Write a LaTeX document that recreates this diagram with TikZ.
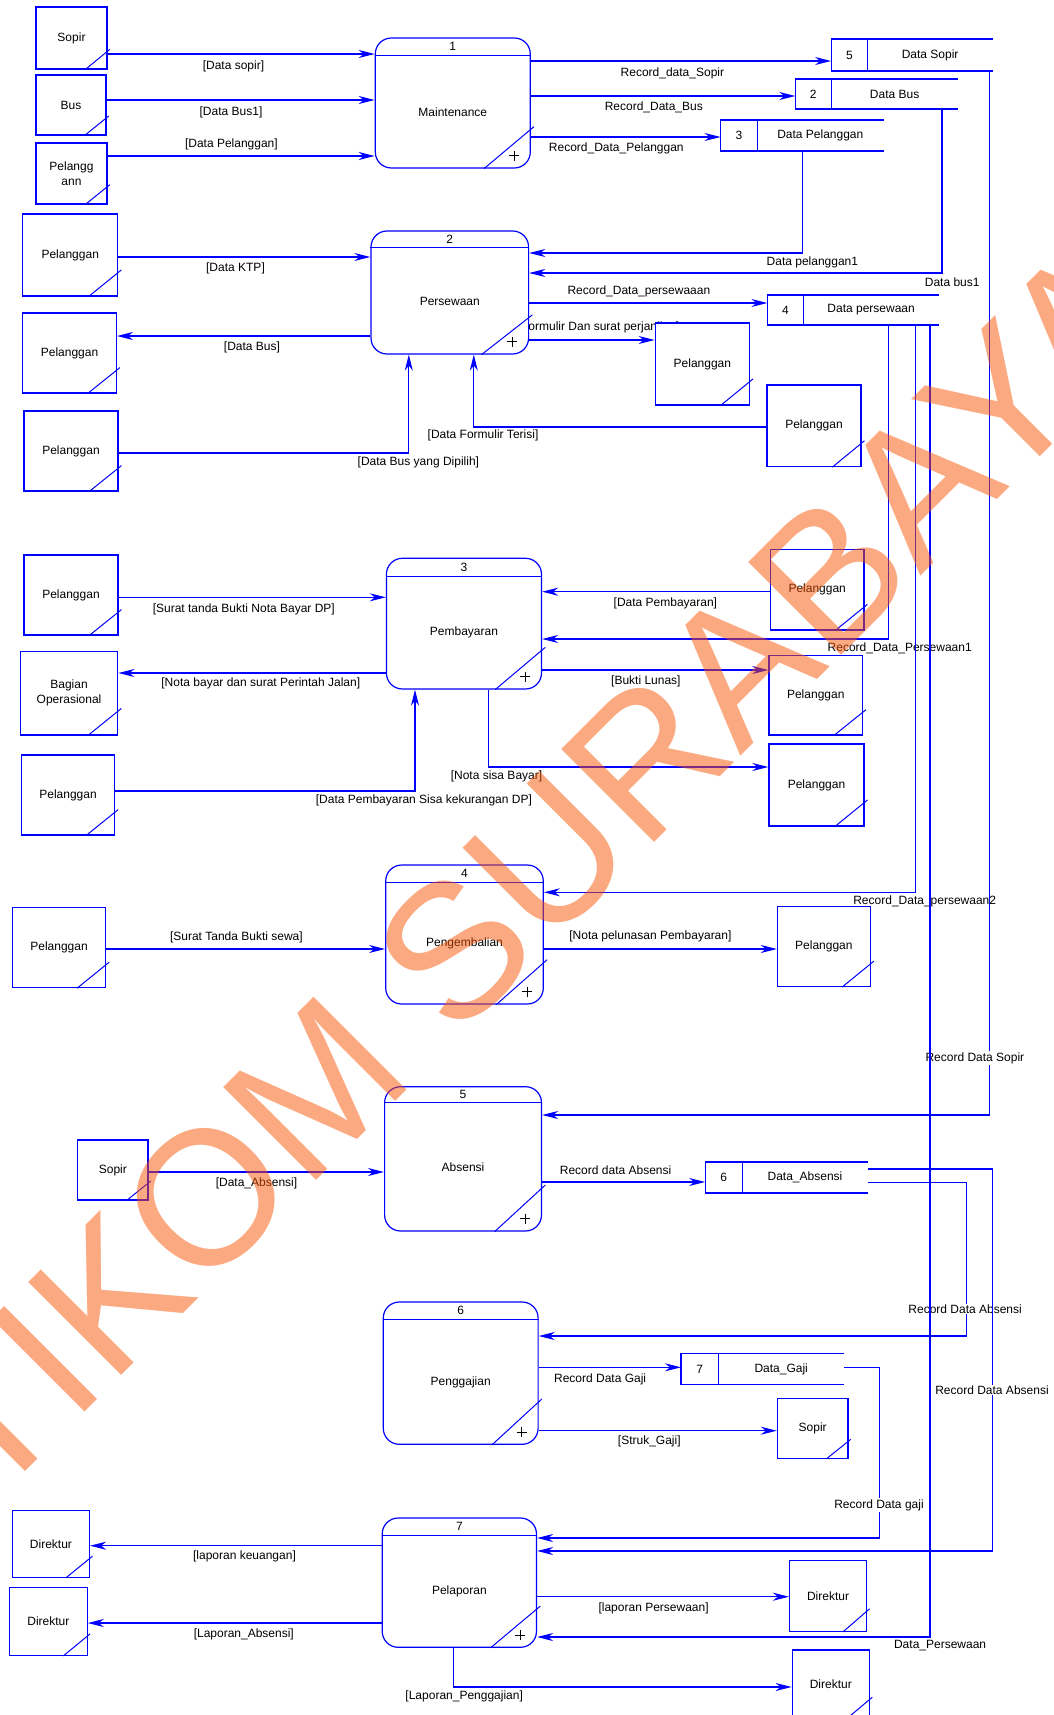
\documentclass[tikz,border=0pt]{standalone}
\usepackage{fontspec}
\setmainfont{Liberation Sans}
\usetikzlibrary{arrows.meta,calc}

\definecolor{dfdblue}{RGB}{0,0,255}
\definecolor{stampcol}{RGB}{249,85,5}

\pgfdeclarelayer{paper}
\pgfdeclarelayer{flows}
\pgfsetlayers{paper,flows,main}

% external entity: name, cx, cy, width, height, text
\newcommand\dfdent[6]{%
  \node[ent, minimum width=#4pt, minimum height=#5pt] (#1) at (#2,#3) {#6};
  \draw[corner] let \p1=(#1.south east), \p2=(#1.north west) in
    ({\x1-0.31*(\x1-\x2)},\y1) -- ({\x1+0.03*(\x1-\x2)},{\y1+0.32*(\y2-\y1)});
}

% process: name, cx, cy, width, height, header depth, number, title
\newcommand\dfdproc[8]{%
  \node[proc, minimum width=#4pt, minimum height=#5pt] (#1) at (#2,#3) {};
  \draw[dfdblue, line width=1.2pt] ($(#1.north west)+(0,#6)$) -- ($(#1.north east)+(0,#6)$);
  \node[txt] (#1-num) at ($(#1.north)+(0,{#6/2})$) {#7};
  \node[txt] (#1-title) at ($(#1.center)+(0,{#6/2})$) {#8};
  \draw[corner] let \p1=(#1.south east), \p2=(#1.north west) in
    ({\x1-0.30*(\x1-\x2)},\y1) -- ({\x1+0.02*(\x1-\x2)},{\y1+0.32*(\y2-\y1)});
  \draw[plus] ($(#1.south east)+(-17,-13)$) +(-5,0) -- +(5,0) +(0,-5) -- +(0,5);
}

% data store: name, cx, cy, width, height, divider offset, number, title
\newcommand\dfdstore[8]{%
  \node[inner sep=0pt, outer sep=0pt, minimum width=#4pt, minimum height=#5pt] (#1) at (#2,#3) {};
  \draw[dfdblue, line width=1.2pt] (#1.north east) -- (#1.north west) -- (#1.south west) -- (#1.south east);
  \draw[dfdblue, line width=1.2pt] ($(#1.north west)+(#6,0)$) -- ($(#1.south west)+(#6,0)$);
  \node[txt] (#1-num) at ($(#1.west)+({#6/2},0)$) {#7};
  \node[txt] (#1-title) at ($(#1.center)+({#6/2},0)$) {#8};
}

\begin{document}
\begin{tikzpicture}[x=1pt, y=-1pt,
  font=\fontsize{12}{14.7}\selectfont,
  ent/.style={draw=dfdblue, fill=white, line width=1.2pt, inner sep=1pt, align=center, text=black},
  proc/.style={draw=dfdblue, fill=white, line width=1.2pt, rounded corners=16pt, inner sep=0pt},
  txt/.style={inner sep=0pt, text=black},
  corner/.style={draw=dfdblue, line width=1pt},
  plus/.style={draw=black, line width=0.7pt},
  flow/.style={draw=dfdblue, line width=1.2pt, -{Stealth[length=16pt,width=8pt,inset=5pt]}},
  lbl/.style={inner sep=1pt, text=black},
  lblw/.style={lbl, fill=white},
  stamp/.style={anchor=base west, rotate=45, inner sep=0pt, text=stampcol, text opacity=0.5,
                font=\fontsize{191}{191}\selectfont}]

\useasboundingbox (0,0) rectangle (1054,1715);
\begin{pgfonlayer}{paper}
  \fill[white] (0,0) rectangle (1054,1715);
\end{pgfonlayer}

% ---- processes ----
\dfdproc{P1}{452.8}{103}{155}{130}{18}{1}{Maintenance}
\dfdproc{P2}{449.8}{292.5}{157.6}{123}{17}{2}{Persewaan}
\dfdproc{P3}{463.95}{623.65}{155.1}{130.7}{18.4}{3}{Pembayaran}
\dfdproc{P4}{464.5}{934.5}{157.6}{139}{18.3}{4}{Pengembalian}
\dfdproc{P5}{463.05}{1158.85}{156.9}{144.3}{16.6}{5}{Absensi}
\dfdproc{P6}{460.7}{1373.15}{154.8}{142.3}{18}{6}{Penggajian}
\dfdproc{P7}{459.35}{1582.65}{154.3}{129.3}{18}{7}{Pelaporan}

% ---- data stores ----
\dfdstore{DS5}{911.9}{55}{161.6}{32}{36.5}{5}{Data Sopir}
\dfdstore{DS2}{876.75}{94}{162.9}{30}{35.8}{2}{Data Bus}
\dfdstore{DS3}{802.05}{135.5}{162.9}{31}{36.5}{3}{Data Pelanggan}
\dfdstore{DS4}{853}{310}{171.2}{30}{36.2}{4}{Data persewaan}
\dfdstore{DS6}{786.4}{1177.5}{162.6}{31}{37.2}{6}{Data\_Absensi}
\dfdstore{DS7}{762.45}{1369.2}{162.9}{31}{37.5}{7}{Data\_Gaji}

% ---- external entities ----
\dfdent{E1}{71.5}{38}{71}{62}{Sopir}
\dfdent{E2}{71}{105}{70}{60}{Bus}
\dfdent{E3}{71.5}{173.5}{71}{61}{Pelangg\\ann}
\dfdent{E4}{70.25}{255}{95.1}{82}{Pelanggan}
\dfdent{E5}{69.55}{353}{93.7}{80}{Pelanggan}
\dfdent{E6}{71}{451}{94}{80}{Pelanggan}
\dfdent{E7}{702.35}{364}{94.3}{82}{Pelanggan}
\dfdent{E8}{814}{425.85}{94}{81.7}{Pelanggan}
\dfdent{E9}{71}{595}{94}{80}{Pelanggan}
\dfdent{E10}{69.05}{693.15}{97.5}{83.7}{Bagian\\Operasional}
\dfdent{E11}{68.05}{795}{93.3}{80}{Pelanggan}
\dfdent{E12}{817.2}{589.65}{93.4}{80.7}{Pelanggan}
\dfdent{E13}{815.75}{695.15}{93.5}{79.7}{Pelanggan}
\dfdent{E14}{816.5}{785}{95}{82}{Pelanggan}
\dfdent{E15}{59.05}{947.5}{93.3}{80.4}{Pelanggan}
\dfdent{E16}{823.9}{946.5}{93}{80.4}{Pelanggan}
\dfdent{E17}{112.9}{1170}{70.2}{60}{Sopir}
\dfdent{E18}{812.7}{1428.3}{70.6}{60}{Sopir}
\dfdent{E19}{50.95}{1544}{77.1}{66.6}{Direktur}
\dfdent{E20}{48.35}{1621.5}{77.5}{67.6}{Direktur}
\dfdent{E21}{828.05}{1595.8}{77.1}{71}{Direktur}
\dfdent{E22}{830.8}{1684.5}{77.2}{69}{Direktur}

% ---- data flows ----
\begin{pgfonlayer}{flows}
\draw[flow] (E1.east |- 0,54) -- (P1.west |- 0,54) node[lbl] (f1) at (233.5,66) {[Data sopir]};
\draw[flow] (E2.east |- 0,100) -- (P1.west |- 0,100) node[lbl] (f2) at (231,112) {[Data Bus1]};
\draw[flow] (E3.east |- 0,156) -- (P1.west |- 0,156) node[lbl] (f3) at (231.4,144) {[Data Pelanggan]};
\draw[flow] (P1.east |- 0,61) -- (DS5.west |- 0,61) node[lbl] (f4) at (672.4,73) {Record\_data\_Sopir};
\draw[flow] (P1.east |- 0,96) -- (DS2.west |- 0,96) node[lbl] (f5) at (653.8,107) {Record\_Data\_Bus};
\draw[flow] (P1.east |- 0,137) -- (DS3.west |- 0,137) node[lbl] (f6) at (616.3,148) {Record\_Data\_Pelanggan};
\draw[flow] (DS3.south -| 802.2,0) |- (P2.east |- 0,253) node[lbl] (f7) at (812.4,262) {Data pelanggan1};
\draw[flow] (DS2.south -| 942,0) |- (P2.east |- 0,273) node[lbl] (f8) at (952.2,282) {Data bus1};
\draw[flow] (E4.east |- 0,257) -- (P2.west |- 0,257) node[lbl] (f9) at (235.5,268) {[Data KTP]};
\draw[flow] (P2.west |- 0,336) -- (E5.east |- 0,336) node[lbl] (f10) at (252,347) {[Data Bus]};
\draw[flow] (E6.east |- 0,453) -| (P2.south -| 408.8,0) node[lbl] (f11) at (418.4,462) {[Data Bus yang Dipilih]};
\draw[flow] (E8.west |- 0,427) -| (P2.south -| 473.8,0) node[lbl] (f12) at (483,435.5) {[Data Formulir Terisi]};
\draw[flow] (P2.east |- 0,303) -- (DS4.west |- 0,303) node[lbl] (f13) at (638.9,291) {Record\_Data\_persewaaan};
\draw[flow] (P2.east |- 0,340) -- (E7.west |- 0,340) node[lbl] (f14) at (598.5,327) {[Formulir Dan surat perjanjian]};

\draw[flow] (E9.east |- 0,597.3) -- (P3.west |- 0,597.3) node[lbl] (f15) at (243.8,609) {[Surat tanda Bukti Nota Bayar DP]};
\draw[flow] (P3.west |- 0,673) -- (E10.east |- 0,673) node[lbl] (f16) at (260.8,683) {[Nota bayar dan surat Perintah Jalan]};
\draw[flow] (E11.east |- 0,791) -| (P3.south -| 415,0) node[lbl] (f17) at (423.9,800) {[Data Pembayaran Sisa kekurangan DP]};
\draw[flow] (P3.south -| 488.3,0) |- (E14.west |- 0,767) node[lbl] (f18) at (496.5,776) {[Nota sisa Bayar]};
\draw[flow] (E12.west |- 0,591.7) -- (P3.east |- 0,591.7) node[lbl] (f19) at (665.4,603) {[Data Pembayaran]};
\draw[flow] (DS4.south -| 888.7,0) |- (P3.east |- 0,639) node[lbl] (f20) at (899.7,648) {Record\_Data\_Persewaan1};
\draw[flow] (P3.east |- 0,670) -- (E13.west |- 0,670) node[lbl] (f21) at (645.9,681) {[Bukti Lunas]};

\draw[flow] (E15.east |- 0,949) -- (P4.west |- 0,949) node[lbl] (f22) at (236.4,937) {[Surat Tanda Bukti sewa]};
\draw[flow] (DS4.south -| 915.2,0) |- (P4.east |- 0,892.3) node[lbl] (f23) at (924.7,901) {Record\_Data\_persewaan2};
\draw[flow] (P4.east |- 0,949) -- (E16.west |- 0,949) node[lbl] (f24) at (650.4,936) {[Nota pelunasan Pembayaran]};

\draw[flow] (DS5.south -| 989.6,0) |- (P5.east |- 0,1115) node[lblw] (f25) at (974.9,1058) {Record Data Sopir};
\draw[flow] (E17.east |- 0,1172) -- (P5.west |- 0,1172) node[lbl] (f26) at (256.5,1183) {[Data\_Absensi]};
\draw[flow] (P5.east |- 0,1182) -- (DS6.west |- 0,1182) node[lbl] (f27) at (615.6,1170) {Record data Absensi};

\draw[flow] (DS6.east |- 0,1182.7) -| (966.8,1336) -- (P6.east |- 0,1336) node[lblw] (f28) at (965.1,1309) {Record Data Absensi};
\draw[flow] (DS6.east |- 0,1169) -| (992.3,1551) -- (P7.east |- 0,1551) node[lblw] (f29) at (992,1390) {Record Data Absensi};
\draw[flow] (P6.east |- 0,1367.3) -- (DS7.west |- 0,1367.3) node[lbl] (f30) at (600.1,1379) {Record Data Gaji};
\draw[flow] (P6.east |- 0,1430.7) -- (E18.west |- 0,1430.7) node[lbl] (f31) at (649.3,1441) {[Struk\_Gaji]};
\draw[flow] (DS7.east |- 0,1367.3) -| (879.7,1538) -- (P7.east |- 0,1538) node[lblw] (f32) at (879,1505) {Record Data gaji};
\draw[flow] (DS4.south -| 930,0) |- (P7.east |- 0,1637) node[lbl] (f33) at (940.1,1646) {Data\_Persewaan};

\draw[flow] (P7.west |- 0,1545.7) -- (E19.east |- 0,1545.7) node[lbl] (f34) at (244.5,1556) {[laporan keuangan]};
\draw[flow] (P7.west |- 0,1623) -- (E20.east |- 0,1623) node[lbl] (f35) at (243.8,1634) {[Laporan\_Absensi]};
\draw[flow] (P7.east |- 0,1596.7) -- (E21.west |- 0,1596.7) node[lbl] (f36) at (653.6,1608) {[laporan Persewaan]};
\draw[flow] (P7.south -| 453.5,0) |- (E22.west |- 0,1687) node[lbl] (f37) at (464.2,1696) {[Laporan\_Penggajian]};
\end{pgfonlayer}

% ---- stamp across the sheet ----
\node[stamp] (stamp) at (-99.8,1596.8) {STIKOM SURABAYA};

\end{tikzpicture}
\end{document}
